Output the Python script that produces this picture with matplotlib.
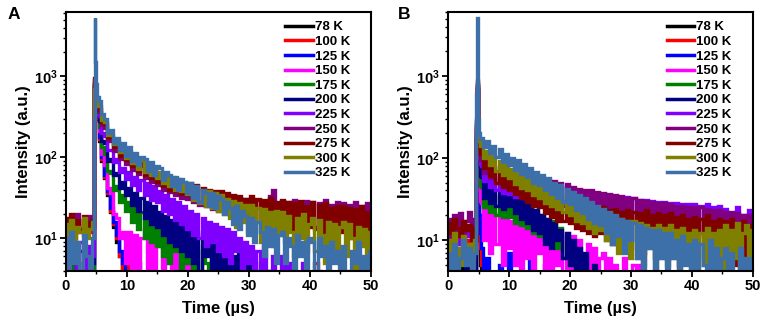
import numpy as np
import matplotlib
matplotlib.use("Agg")
import matplotlib.pyplot as plt
from matplotlib.ticker import FuncFormatter, MultipleLocator

plt.rcParams['font.family'] = ['Liberation Sans', 'DejaVu Sans']
plt.rcParams['font.weight'] = 'bold'
plt.rcParams['mathtext.fontset'] = 'custom'
plt.rcParams['mathtext.bf'] = 'Liberation Sans:bold'
plt.rcParams['mathtext.rm'] = 'Liberation Sans:bold'

# time grid (us): baseline, laser pulse, decay
t = np.concatenate([np.arange(0, 5, 0.5),
                    [4.7, 4.8, 4.9, 5.0, 5.1, 5.25],
                    np.arange(5.5, 50.01, 0.5)])

labels = ['78 K', '100 K', '125 K', '150 K', '175 K', '200 K',
          '225 K', '250 K', '275 K', '300 K', '325 K']
colors = ['#000000', '#ff0000', '#0000ff', '#ff00ff', '#008000', '#000080',
          '#8000ff', '#800080', '#800000', '#808000', '#3d6fa8']

# ---- panel A ----
a78 = [5, 2, 6, 3, 4, 1, 5, 3, 2, 4,
       700, 720, 540, 420, 340, 300,
       160, 90, 55, 34, 21, 14, 9, 6, 3, 1,
       1, 1, 2, 1, 1, 1, 1, 1, 1, 1,
       1, 1, 1, 1, 1, 1, 1, 1, 1, 1,
       1, 1, 1, 1, 1, 1, 1, 1, 1, 1,
       1, 1, 1, 1, 1, 1, 1, 1, 1, 1,
       1, 1, 1, 1, 1, 1, 1, 1, 1, 1,
       1, 1, 1, 1, 1, 1, 1, 1, 1, 1,
       1, 1, 1, 1, 1, 1, 1, 1, 1, 1,
       1, 1, 1, 1, 1, 1, 1, 1, 1, 1]
a100 = [14, 12, 18, 10, 15, 13, 11, 16, 12, 14,
        720, 740, 550, 430, 350, 310,
        170, 95, 58, 36, 22, 15, 10, 6, 4, 1,
        6, 1, 1, 3, 1, 1, 1, 2, 1, 1,
        1, 1, 1, 1, 1, 1, 1, 1, 1, 1,
        1, 1, 1, 1, 1, 1, 1, 1, 1, 1,
        1, 1, 1, 1, 1, 1, 1, 1, 1, 1,
        1, 1, 1, 1, 1, 1, 1, 1, 1, 1,
        1, 1, 1, 1, 1, 1, 1, 1, 1, 1,
        1, 5, 1, 1, 1, 1, 1, 1, 1, 1,
        1, 1, 1, 1, 1, 1, 1, 1, 1, 1]
a125 = [3, 1, 4, 1, 3, 1, 2, 4, 1, 2,
        740, 760, 560, 440, 360, 320,
        180, 100, 60, 38, 24, 16, 11, 7, 5, 1,
        3, 6, 1, 5, 1, 2, 4, 1, 1, 3,
        1, 1, 2, 1, 1, 1, 1, 1, 1, 1,
        1, 1, 1, 1, 1, 1, 1, 1, 1, 1,
        1, 1, 1, 1, 1, 1, 1, 1, 1, 1,
        1, 1, 1, 1, 1, 1, 1, 1, 1, 1,
        1, 1, 1, 1, 1, 1, 1, 1, 1, 1,
        1, 1, 1, 1, 1, 1, 1, 1, 1, 1,
        1, 1, 1, 1, 1, 1, 1, 1, 1, 1]
a150 = [4, 1, 5, 2, 4, 1, 3, 5, 1, 3,
        760, 780, 580, 460, 380, 340,
        210, 110, 80, 42, 36, 20, 18, 10, 12, 5,
        12, 4, 11, 3, 10, 13, 2, 9, 3, 11,
        8, 2, 10, 5, 1, 9, 3, 7, 1, 6,
        3, 1, 5, 1, 2, 4, 1, 1, 3, 1,
        1, 1, 2, 1, 1, 1, 1, 1, 1, 1,
        1, 1, 1, 1, 1, 1, 1, 1, 1, 1,
        1, 1, 1, 1, 1, 1, 1, 1, 1, 1,
        1, 1, 1, 1, 1, 1, 1, 1, 1, 1,
        1, 1, 1, 1, 1, 1, 1, 1, 1, 1]
a175 = [5, 2, 6, 3, 5, 1, 4, 6, 2, 4,
        780, 800, 600, 480, 400, 360,
        240, 135, 110, 68, 64, 40, 44, 28, 34, 22,
        28, 16, 24, 13, 21, 10, 18, 9, 16, 8,
        14, 6, 13, 5, 12, 7, 11, 4, 10, 5,
        9, 3, 8, 2, 7, 5, 1, 6, 3, 2,
        6, 1, 5, 1, 5, 2, 1, 6, 1, 1,
        3, 1, 4, 1, 2, 1, 1, 3, 1, 1,
        1, 2, 1, 1, 1, 1, 2, 1, 1, 1,
        1, 1, 1, 1, 1, 1, 1, 1, 1, 1,
        1, 1, 1, 1, 1, 1, 1, 1, 1, 1]
a200 = [6, 3, 8, 5, 2, 7, 4, 6, 3, 5,
        800, 820, 620, 500, 420, 380,
        280, 160, 150, 90, 95, 60, 64, 42, 50, 34,
        42, 26, 36, 22, 32, 18, 28, 15, 25, 14,
        21, 11, 19, 9, 17, 8, 16, 7, 14, 6,
        13, 5, 12, 4, 11, 6, 10, 3, 9, 4,
        8, 2, 7, 3, 6, 1, 7, 2, 5, 1,
        5, 1, 3, 5, 1, 2, 4, 1, 3, 1,
        2, 1, 3, 1, 1, 2, 1, 1, 3, 1,
        1, 1, 2, 1, 1, 1, 2, 1, 1, 1,
        1, 2, 1, 1, 1, 1, 1, 2, 1, 1]
a225 = [8, 5, 10, 6, 3, 9, 7, 4, 8, 6,
        850, 850, 650, 520, 440, 400,
        320, 200, 185, 125, 125, 88, 95, 66, 75, 54,
        66, 45, 58, 40, 52, 34, 48, 30, 44, 28,
        38, 22, 34, 20, 31, 17, 28, 15, 25, 13,
        22, 11, 20, 10, 18, 8, 16, 9, 15, 7,
        14, 6, 13, 5, 12, 7, 10, 4, 9, 5,
        8, 3, 7, 2, 8, 4, 2, 6, 3, 1,
        6, 1, 5, 1, 4, 2, 1, 5, 1, 1,
        3, 1, 4, 1, 2, 1, 3, 1, 1, 2,
        1, 3, 1, 1, 2, 1, 1, 3, 1, 1]
a250 = [16, 13, 18, 14, 20, 12, 17, 15, 19, 14,
        900, 880, 680, 540, 460, 410,
        360, 250, 230, 165, 160, 120, 130, 95, 108, 84,
        96, 70, 86, 62, 78, 56, 70, 50, 64, 46,
        58, 40, 54, 37, 51, 34, 48, 32, 46, 31,
        44, 28, 42, 26, 40, 25, 38, 23, 36, 22,
        36, 21, 34, 20, 33, 19, 32, 18, 31, 17,
        31, 17, 30, 16, 29, 15, 33, 40, 27, 15,
        29, 15, 28, 14, 30, 16, 27, 13, 29, 15,
        28, 14, 27, 15, 30, 13, 26, 14, 28, 13,
        27, 13, 26, 14, 28, 12, 25, 13, 27, 12]
a275 = [18, 14, 20, 15, 17, 13, 19, 16, 14, 17,
        950, 900, 700, 560, 480, 430,
        400, 270, 260, 180, 175, 135, 145, 105, 120, 92,
        105, 78, 92, 68, 85, 60, 74, 55, 68, 50,
        62, 44, 58, 40, 55, 38, 52, 35, 48, 34,
        48, 30, 45, 28, 42, 27, 40, 25, 38, 24,
        38, 24, 36, 22, 34, 20, 33, 19, 31, 18,
        33, 18, 31, 17, 30, 15, 32, 16, 28, 14,
        30, 15, 28, 13, 27, 16, 29, 12, 25, 14,
        28, 13, 26, 12, 27, 14, 24, 11, 25, 12,
        25, 12, 24, 10, 23, 13, 25, 9, 21, 11]
a300 = [15, 11, 17, 9, 14, 12, 18, 10, 13, 16,
        700, 950, 700, 560, 480, 430,
        430, 290, 270, 190, 190, 145, 160, 115, 130, 98,
        118, 85, 100, 72, 92, 66, 80, 60, 75, 55,
        66, 48, 62, 44, 57, 40, 54, 38, 50, 35,
        47, 30, 43, 27, 40, 25, 38, 24, 36, 22,
        34, 20, 31, 18, 29, 14, 27, 16, 26, 12,
        26, 12, 24, 9, 23, 14, 21, 8, 22, 11,
        21, 9, 19, 12, 6, 18, 10, 20, 7, 15,
        18, 7, 17, 11, 5, 16, 9, 15, 6, 14,
        16, 6, 15, 10, 4, 14, 8, 13, 5, 12]
a325 = [10, 3, 12, 5, 9, 2, 11, 6, 4, 10,
        300, 5200, 1500, 800, 650, 560,
        500, 340, 300, 200, 215, 150, 175, 125, 150, 105,
        135, 90, 112, 80, 100, 95, 68, 88, 60, 78,
        74, 52, 66, 60, 44, 58, 40, 54, 50, 36,
        48, 32, 44, 28, 40, 36, 25, 36, 24, 33,
        31, 20, 28, 24, 15, 25, 13, 22, 19, 11,
        18, 9, 16, 12, 6, 14, 8, 13, 5, 11,
        12, 5, 10, 8, 3, 11, 6, 9, 4, 10,
        9, 3, 10, 6, 8, 2, 9, 5, 7, 3,
        8, 4, 2, 7, 5, 9, 3, 6, 2, 7]

# ---- panel B ----
b78 = [6, 3, 8, 4, 5, 2, 7, 4, 3, 5,
       170, 660, 220, 40, 10, 5,
       1, 1, 1, 1, 1, 1, 1, 1, 1, 1,
       1, 1, 1, 1, 1, 1, 1, 1, 1, 1,
       1, 1, 1, 1, 1, 1, 1, 1, 1, 1,
       1, 1, 1, 1, 1, 1, 1, 1, 1, 1,
       1, 1, 1, 1, 1, 1, 1, 1, 1, 1,
       1, 1, 1, 1, 1, 1, 1, 1, 1, 1,
       1, 1, 1, 1, 1, 1, 1, 1, 1, 1,
       1, 1, 1, 1, 1, 1, 1, 1, 1, 1,
       1, 1, 1, 1, 1, 1, 1, 1, 1, 1]
b100 = [10, 8, 12, 18, 9, 11, 7, 10, 8, 9,
        180, 680, 240, 50, 14, 8,
        5, 1, 4, 1, 2, 1, 1, 3, 1, 1,
        1, 1, 1, 1, 1, 1, 1, 1, 1, 1,
        1, 1, 1, 1, 1, 1, 1, 1, 1, 1,
        1, 1, 1, 1, 1, 1, 1, 1, 1, 1,
        1, 1, 1, 1, 1, 1, 1, 1, 1, 1,
        1, 1, 1, 1, 1, 1, 1, 1, 1, 1,
        1, 1, 1, 1, 1, 1, 1, 1, 1, 1,
        1, 1, 1, 1, 1, 1, 1, 1, 1, 1,
        1, 1, 1, 1, 1, 1, 1, 1, 1, 1]
b125 = [2, 1, 3, 1, 2, 1, 1, 2, 1, 1,
        200, 700, 260, 60, 20, 12,
        8, 1, 6, 1, 3, 1, 5, 1, 2, 7,
        1, 2, 1, 4, 1, 1, 6, 1, 1, 2,
        1, 5, 1, 1, 1, 3, 1, 1, 1, 1,
        1, 1, 1, 1, 1, 1, 1, 1, 1, 1,
        1, 1, 1, 1, 1, 1, 1, 1, 1, 1,
        1, 1, 1, 1, 1, 1, 1, 1, 1, 1,
        1, 1, 1, 1, 1, 1, 1, 1, 1, 1,
        1, 1, 1, 1, 1, 1, 1, 1, 1, 1,
        1, 1, 1, 1, 1, 1, 1, 1, 1, 1]
b150 = [3, 1, 4, 1, 2, 1, 3, 1, 1, 2,
        220, 720, 280, 90, 40, 30,
        28, 10, 25, 7, 22, 9, 20, 5, 18, 8,
        17, 5, 15, 4, 14, 6, 16, 3, 13, 7,
        14, 4, 12, 2, 13, 5, 11, 3, 12, 4,
        11, 2, 10, 4, 1, 9, 3, 8, 1, 6,
        7, 1, 6, 1, 5, 2, 1, 6, 1, 1,
        5, 1, 5, 1, 1, 2, 1, 1, 1, 1,
        1, 1, 1, 1, 1, 1, 1, 1, 1, 1,
        1, 1, 1, 1, 1, 1, 1, 1, 1, 1,
        1, 1, 1, 1, 1, 1, 1, 1, 1, 1]
b175 = [4, 1, 5, 2, 3, 1, 4, 2, 1, 3,
        230, 740, 300, 110, 60, 45,
        44, 25, 38, 22, 35, 20, 33, 19, 31, 19,
        29, 16, 27, 15, 26, 14, 25, 12, 22, 11,
        20, 10, 18, 9, 17, 8, 14, 6, 11, 5,
        8, 2, 7, 2, 6, 1, 4, 1, 2, 1,
        1, 2, 1, 1, 1, 1, 1, 1, 1, 1,
        1, 1, 1, 1, 1, 1, 1, 1, 1, 1,
        1, 1, 1, 1, 1, 1, 1, 1, 1, 1,
        1, 1, 1, 1, 1, 1, 1, 1, 1, 1,
        1, 1, 1, 1, 1, 1, 1, 1, 1, 1]
b200 = [5, 2, 6, 3, 4, 1, 5, 3, 2, 4,
        240, 760, 320, 130, 80, 60,
        58, 32, 50, 28, 46, 26, 44, 24, 40, 26,
        38, 21, 34, 18, 30, 16, 27, 13, 23, 12,
        20, 9, 18, 8, 16, 10, 13, 6, 12, 5,
        10, 4, 8, 2, 7, 3, 1, 5, 2, 1,
        4, 1, 3, 1, 2, 1, 1, 3, 1, 1,
        1, 1, 1, 1, 1, 1, 1, 1, 1, 1,
        1, 1, 1, 1, 1, 1, 1, 1, 1, 1,
        1, 1, 1, 1, 1, 1, 1, 1, 1, 1,
        1, 1, 1, 1, 1, 1, 1, 1, 1, 1]
b225 = [12, 8, 14, 10, 9, 13, 11, 15, 10, 12,
        250, 780, 340, 150, 100, 85,
        80, 52, 66, 44, 58, 40, 54, 37, 52, 36,
        52, 33, 50, 32, 49, 31, 50, 30, 47, 30,
        48, 29, 46, 28, 45, 27, 44, 26, 43, 26,
        42, 24, 40, 23, 39, 22, 38, 22, 37, 21,
        36, 20, 35, 19, 34, 19, 33, 18, 33, 18,
        32, 17, 31, 16, 31, 16, 30, 16, 29, 15,
        29, 15, 28, 14, 28, 15, 27, 14, 27, 14,
        27, 14, 26, 13, 27, 14, 25, 13, 26, 13,
        24, 13, 21, 12, 25, 13, 20, 12, 23, 12]
b250 = [18, 9, 20, 11, 21, 10, 17, 22, 12, 18,
        260, 800, 350, 160, 110, 95,
        100, 66, 86, 56, 76, 50, 70, 45, 66, 42,
        62, 38, 60, 36, 58, 34, 60, 35, 56, 34,
        56, 32, 54, 31, 52, 30, 50, 29, 48, 28,
        44, 25, 42, 24, 41, 23, 40, 22, 38, 22,
        37, 20, 36, 19, 35, 18, 34, 18, 32, 17,
        32, 16, 31, 15, 30, 15, 29, 14, 28, 14,
        28, 13, 27, 13, 26, 12, 26, 13, 25, 12,
        25, 12, 25, 11, 24, 12, 23, 10, 23, 11,
        22, 10, 22, 9, 21, 11, 20, 9, 20, 10]
b275 = [16, 12, 18, 14, 11, 17, 13, 15, 10, 14,
        280, 850, 380, 180, 130, 110,
        112, 76, 92, 60, 78, 50, 68, 44, 62, 40,
        55, 36, 51, 32, 47, 29, 43, 26, 40, 25,
        37, 21, 35, 19, 33, 17, 31, 17, 29, 16,
        28, 14, 27, 13, 26, 12, 25, 11, 24, 12,
        25, 10, 23, 9, 24, 11, 22, 8, 23, 10,
        22, 8, 21, 7, 23, 9, 20, 6, 21, 8,
        20, 6, 21, 7, 19, 5, 20, 8, 18, 6,
        19, 5, 18, 6, 20, 4, 17, 6, 18, 5,
        17, 4, 18, 5, 16, 3, 17, 5, 15, 4]
b300 = [10, 6, 12, 8, 5, 11, 7, 9, 6, 10,
        300, 900, 400, 200, 160, 140,
        145, 100, 120, 82, 104, 70, 92, 62, 82, 56,
        74, 48, 66, 43, 60, 40, 54, 35, 50, 32,
        47, 28, 43, 26, 40, 24, 37, 22, 34, 20,
        33, 17, 30, 16, 28, 14, 26, 12, 23, 13,
        22, 10, 21, 9, 19, 7, 18, 9, 17, 6,
        17, 6, 16, 5, 15, 8, 14, 4, 15, 6,
        14, 5, 15, 6, 13, 3, 14, 6, 12, 4,
        13, 4, 12, 5, 14, 3, 12, 6, 13, 4,
        15, 4, 13, 6, 16, 5, 12, 15, 6, 13]
b325 = [7, 4, 9, 3, 6, 10, 5, 8, 3, 7,
        600, 5100, 1200, 300, 200, 170,
        175, 135, 160, 115, 140, 102, 128, 90, 112, 82,
        100, 72, 94, 64, 84, 58, 76, 50, 68, 46,
        62, 40, 56, 36, 50, 32, 46, 29, 42, 27,
        38, 23, 35, 21, 32, 18, 29, 16, 26, 15,
        24, 12, 22, 9, 20, 11, 18, 7, 17, 10,
        16, 6, 15, 4, 14, 8, 13, 3, 13, 6,
        12, 4, 12, 6, 10, 2, 11, 5, 9, 2,
        10, 3, 9, 5, 2, 10, 4, 8, 2, 6,
        8, 2, 7, 4, 1, 8, 3, 6, 2, 6]

panel_a = [a78, a100, a125, a150, a175, a200, a225, a250, a275, a300, a325]
panel_b = [b78, b100, b125, b150, b175, b200, b225, b250, b275, b300, b325]


def log_label(v, pos):
    return r'$\mathbf{10^{%d}}$' % int(round(np.log10(v)))


def draw(ax, series, ylim):
    for y, lab, c in zip(series, labels, colors):
        ax.plot(t, y, color=c, lw=2.4, label=lab, drawstyle='steps-mid',
                solid_joinstyle='miter')
    ax.set_yscale('log')
    ax.set_xlim(0, 50)
    ax.set_ylim(*ylim)
    ax.xaxis.set_major_locator(MultipleLocator(10))
    ax.xaxis.set_minor_locator(MultipleLocator(5))
    ax.yaxis.set_major_formatter(FuncFormatter(log_label))
    ax.tick_params(which='major', direction='out', length=4, width=1.3,
                   labelsize=10.5, pad=2)
    ax.tick_params(which='minor', direction='out', length=2.5, width=1)
    for s in ax.spines.values():
        s.set_linewidth(1.5)
        s.set_zorder(5)
    ax.set_xlabel('Time (µs)', fontsize=12, fontweight='bold', labelpad=6)
    ax.set_ylabel('Intensity (a.u.)', fontsize=12, fontweight='bold', labelpad=2)
    leg = ax.legend(loc='upper right', bbox_to_anchor=(0.931, 0.965),
                    frameon=False, fontsize=9.5, handlelength=2.1,
                    handletextpad=0.15, labelspacing=0.18, borderaxespad=0,
                    borderpad=0)
    for h in leg.legend_handles:
        h.set_linewidth(2.5)
        h.set_drawstyle('default')


fig = plt.figure(figsize=(7.65, 3.32), dpi=100)
ax_a = fig.add_axes([0.0859, 0.1846, 0.399, 0.779])
ax_b = fig.add_axes([0.586, 0.1846, 0.398, 0.779])

draw(ax_a, panel_a, (4, 6200))
draw(ax_b, panel_b, (4.2, 6000))

fig.text(0.010, 0.943, 'A', fontsize=12.5, fontweight='bold')
fig.text(0.520, 0.943, 'B', fontsize=12.5, fontweight='bold')

fig.savefig('out.png', dpi=100)
